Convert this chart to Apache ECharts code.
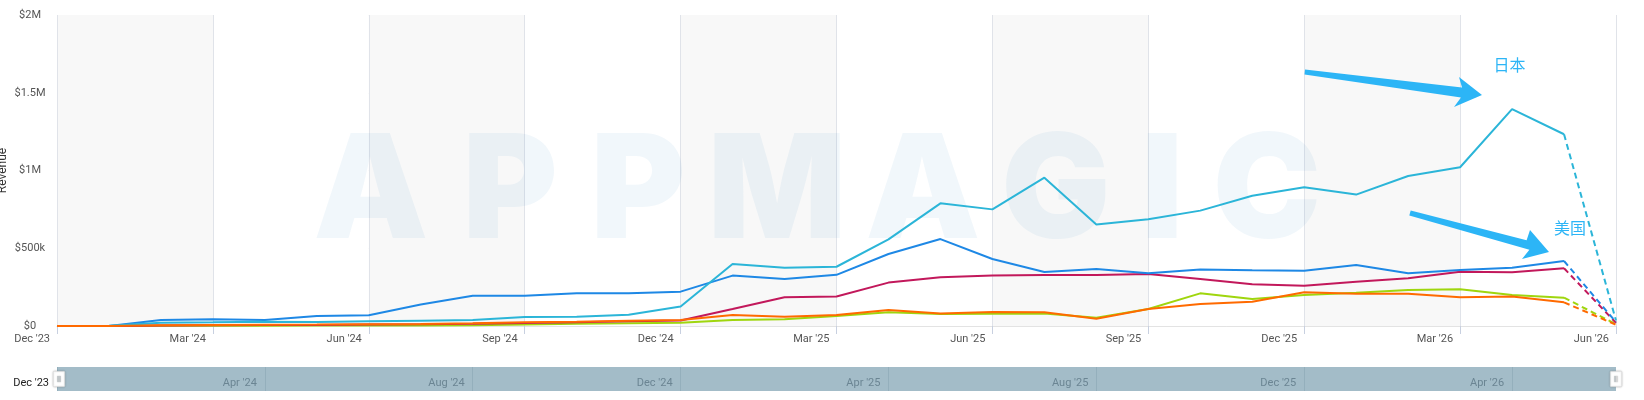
<!DOCTYPE html>
<html>
<head>
<meta charset="utf-8">
<title>Revenue</title>
<script src="https://cdn.jsdelivr.net/npm/echarts@6/dist/echarts.min.js"></script>
<style>
  html, body { margin: 0; padding: 0; background: #ffffff; }
  #chart { width: 1644px; height: 400px; }
</style>
</head>
<body>
<div id="chart"></div>
<script>
// 月份分类
var months = [
  "Dec '23", "Jan '24", "Feb '24", "Mar '24", "Apr '24", "May '24", "Jun '24", "Jul '24",
  "Aug '24", "Sep '24", "Oct '24", "Nov '24", "Dec '24", "Jan '25", "Feb '25", "Mar '25",
  "Apr '25", "May '25", "Jun '25", "Jul '25", "Aug '25", "Sep '25", "Oct '25", "Nov '25",
  "Dec '25", "Jan '26", "Feb '26", "Mar '26", "Apr '26", "May '26", "Jun '26"
];

// 各国收入 (USD)
var japan = [
  0, 2000, 21000, 24000, 28000, 26000, 30000, 34000, 38000, 58000, 60000, 73000, 126000,
  399000, 375000, 381000, 557000, 789000, 750000, 954000, 652000, 686000, 742000, 838000,
  892000, 845000, 965000, 1021000, 1395000, 1233000, 35000
];
var usa = [
  0, 0, 38000, 43000, 39000, 64000, 69000, 138000, 195000, 194000, 210000, 210000, 221000,
  324000, 303000, 329000, 463000, 559000, 431000, 347000, 367000, 339000, 364000, 358000,
  356000, 392000, 339000, 360000, 375000, 418000, 25000
];
var magentaSeries = [
  0, 0, 3000, 5000, 6000, 7000, 9000, 11000, 14000, 20000, 24000, 30000, 35000,
  109000, 185000, 190000, 279000, 313000, 324000, 328000, 328000, 334000, 302000, 268000,
  259000, 285000, 307000, 349000, 345000, 371000, 20000
];
var greenSeries = [
  0, 0, 1000, 2000, 2000, 3000, 3000, 4000, 5000, 10000, 15000, 18000, 21000,
  39000, 44000, 64000, 88000, 77000, 79000, 81000, 53000, 109000, 210000, 174000,
  199000, 214000, 232000, 236000, 199000, 182000, 12000
];
var orangeSeries = [
  0, 0, 5000, 7000, 8000, 9000, 11000, 13000, 17000, 24000, 28000, 34000, 38000,
  71000, 60000, 71000, 103000, 81000, 90000, 88000, 47000, 109000, 141000, 156000,
  217000, 208000, 208000, 185000, 189000, 152000, 8000
];

var yTicks = [0, 500000, 1000000, 1500000, 2000000];
var yTickLabels = ['$0', '$500k', '$1M', '$1.5M', '$2M'];

// 水印字母
var watermarkLetters = ['A', 'P', 'P', 'M', 'A', 'G', 'I', 'C'];
var watermarkX = [371, 510, 638, 777, 923, 1056, 1162, 1267];

var lastSolid = 29; // 最后一个实线点 (May '26)

var seriesDefs = [
  { name: 'green', data: greenSeries, color: '#9fd60e' },
  { name: 'magenta', data: magentaSeries, color: '#c2185b' },
  { name: 'usa', data: usa, color: '#1e88e5' },
  { name: 'japan', data: japan, color: '#2bb5d8' },
  { name: 'orange', data: orangeSeries, color: '#ff6a00' }
];

var series = [];
seriesDefs.forEach(function(def, k) {
  series.push({
    name: def.name,
    type: 'line',
    data: def.data.map(function(v, i) { return i <= lastSolid ? v : '-'; }),
    showSymbol: false,
    symbol: 'none',
    z: 2 + k,
    lineStyle: { color: def.color, width: 2 },
    itemStyle: { color: def.color }
  });
  series.push({
    name: def.name + '-forecast',
    type: 'line',
    data: def.data.map(function(v, i) { return i >= lastSolid ? v : '-'; }),
    showSymbol: false,
    symbol: 'none',
    z: 2 + k,
    lineStyle: { color: def.color, width: 2, type: [6, 4] },
    itemStyle: { color: def.color }
  });
});

var graphics = watermarkLetters.map(function(ch, i) {
  return {
    type: 'text',
    x: watermarkX[i],
    y: 194,
    z: 1,
    silent: true,
    style: {
      text: ch,
      font: '900 145px Inter, "Open Sans", sans-serif',
      fill: 'rgba(45, 140, 200, 0.065)',
      textAlign: 'center',
      textVerticalAlign: 'middle'
    }
  };
});

// 箭头标注
var arrowColor = '#2cb5f6';
graphics.push({
  type: 'polygon', z: 10, silent: true,
  shape: { points: [[1305, 69.5], [1462, 87.5], [1459, 77], [1482, 95], [1454, 107], [1461, 97.5], [1304.5, 74.5]] },
  style: { fill: arrowColor }
});
graphics.push({
  type: 'polygon', z: 10, silent: true,
  shape: { points: [[1410.7, 210.6], [1526.6, 240.2], [1530, 230], [1549, 252], [1522, 259], [1529.4, 249.8], [1409.3, 215.4]] },
  style: { fill: arrowColor }
});
graphics.push({
  type: 'text', z: 10, silent: true, x: 1509.5, y: 65,
  style: { text: '日本', font: '16px "Noto Sans CJK SC", sans-serif', fill: arrowColor, textAlign: 'center', textVerticalAlign: 'middle' }
});
graphics.push({
  type: 'text', z: 10, silent: true, x: 1570, y: 227.5,
  style: { text: '美国', font: '16px "Noto Sans CJK SC", sans-serif', fill: arrowColor, textAlign: 'center', textVerticalAlign: 'middle' }
});

var chart = echarts.init(document.getElementById('chart'), null, { renderer: 'canvas' });

var option = {
  animation: false,
  backgroundColor: '#ffffff',
  textStyle: { fontFamily: 'Roboto, sans-serif' },
  grid: [
    { left: 57, right: 28, top: 15, bottom: 74, containLabel: false, outerBoundsMode: 'none' },
    { left: 57, right: 28, top: 367, height: 24, show: true, backgroundColor: '#a3bcc8', borderWidth: 0, outerBoundsMode: 'none' }
  ],
  xAxis: [
    {
      type: 'category',
      gridIndex: 0,
      data: months,
      boundaryGap: false,
      axisLine: { show: true, lineStyle: { color: '#e3e3e3', width: 1 } },
      axisTick: { show: true, interval: 2, length: 8, lineStyle: { color: '#c8d0e0' } },
      axisLabel: {
        interval: 2,
        align: 'right',
        padding: [0, 7, 0, 0],
        margin: 8,
        fontSize: 11,
        color: '#555555'
      },
      splitLine: { show: true, interval: 2, lineStyle: { color: '#e0e3e9' } },
      splitArea: { show: true, interval: 2, areaStyle: { color: ['#f8f8f8', '#ffffff'] } }
    },
    {
      type: 'category',
      gridIndex: 1,
      data: months,
      boundaryGap: false,
      axisLine: { show: false },
      axisTick: { show: false },
      axisLabel: {
        inside: true,
        interval: 3,
        align: 'right',
        padding: [0, 8, 0, 0],
        margin: 2,
        formatter: function(value, index) {
          return index === 0 ? '{d|' + value + '}' : '{n|' + value + '}';
        },
        rich: {
          d: { color: '#222222', fontSize: 11 },
          n: { color: '#6b8593', fontSize: 11 }
        }
      },
      splitLine: { show: true, interval: 3, lineStyle: { color: '#94afbc' } }
    }
  ],
  yAxis: [
    {
      type: 'value',
      gridIndex: 0,
      min: 0,
      max: 2000000,
      interval: 500000,
      name: 'Revenue',
      nameLocation: 'middle',
      nameRotate: 90,
      nameGap: 48,
      nameMoveOverlap: false,
      nameTextStyle: { fontSize: 12, color: '#333333' },
      axisLine: { show: false },
      axisTick: { show: false },
      axisLabel: {
        align: 'center',
        margin: 27,
        fontSize: 11,
        color: '#555555',
        formatter: function(v) {
          var idx = yTicks.indexOf(v);
          return idx >= 0 ? yTickLabels[idx] : '';
        }
      },
      splitLine: { show: true, lineStyle: { color: '#e6e6e6' } }
    },
    {
      type: 'value',
      gridIndex: 1,
      show: false
    }
  ],
  dataZoom: [
    {
      type: 'slider',
      xAxisIndex: 1,
      start: 0,
      end: 100,
      left: 57,
      right: 28,
      top: 367,
      height: 24,
      showDetail: false,
      showDataShadow: false,
      brushSelect: false,
      moveHandleSize: 0,
      backgroundColor: 'rgba(0,0,0,0)',
      fillerColor: 'rgba(0,0,0,0)',
      borderColor: 'rgba(0,0,0,0)',
      handleIcon: 'path://M1,0 H11 Q12,0 12,1 V15 Q12,16 11,16 H1 Q0,16 0,15 V1 Q0,0 1,0 Z M4.5,5 V11 H5.5 V5 Z M6.5,5 V11 H7.5 V5 Z',
      handleSize: '64%',
      handleStyle: { color: '#ffffff', borderColor: '#d6d6d6', borderWidth: 0.5, shadowBlur: 2, shadowColor: 'rgba(0,0,0,0.25)' }
    }
  ],
  graphic: graphics,
  series: series
};

chart.setOption(option);
</script>
</body>
</html>
